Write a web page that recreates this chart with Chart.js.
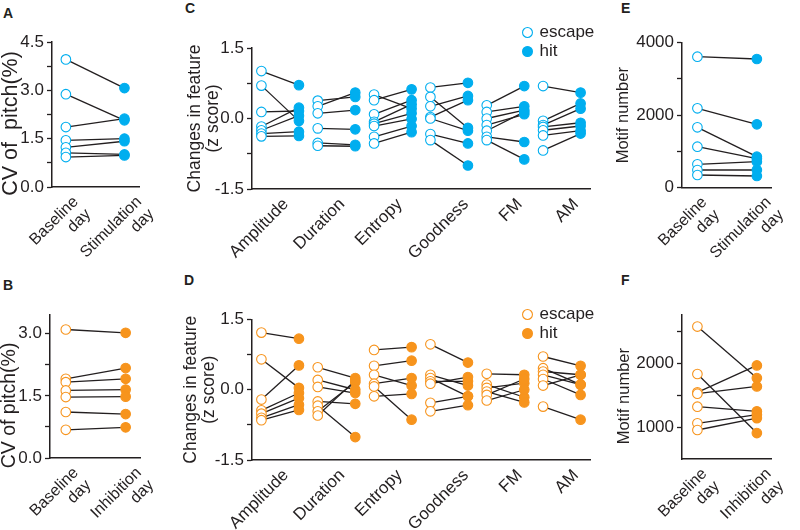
<!DOCTYPE html>
<html><head><meta charset="utf-8">
<script src="https://cdn.jsdelivr.net/npm/chart.js@4.4.1/dist/chart.umd.min.js"></script>
<style>
body{margin:0;background:#fff;width:800px;height:530px;position:relative;overflow:hidden;font-family:"Liberation Sans",Arial,sans-serif}
canvas{position:absolute}
.lab{position:absolute;font-weight:bold;font-size:14px;line-height:14px;color:#231f20}
</style></head><body>
<div class="lab" style="left:3px;top:6px">A</div>
<div class="lab" style="left:185px;top:1px">C</div>
<div class="lab" style="left:621px;top:1px">E</div>
<div class="lab" style="left:3px;top:278px">B</div>
<div class="lab" style="left:184px;top:273px">D</div>
<div class="lab" style="left:621px;top:273px">F</div>
<canvas id="cA"></canvas><canvas id="cB"></canvas><canvas id="cC"></canvas>
<canvas id="cD"></canvas><canvas id="cE"></canvas><canvas id="cF"></canvas>
<canvas id="lC"></canvas><canvas id="lD"></canvas>
<script>
// ---------- data ----------
const stimDays = [['Baseline', 'day'], ['Stimulation', 'day']];
const inhDays = [['Baseline', 'day'], ['Inhibition', 'day']];
const features = ['Amplitude', 'Duration', 'Entropy', 'Goodness', 'FM', 'AM'];
const legendNames = ['escape', 'hit'];

// A: CV of pitch, baseline vs stimulation
const aBaseline = [3.96, 2.88, 1.86, 1.45, 1.23, 1.06, 0.93];
const aStim     = [3.07, 2.07, 2.12, 1.50, 1.42, 1.01, 0.98];
const aYTicks = [0, 0.75, 1.5, 2.25, 3, 3.75, 4.5];
const aYLabels = ['0.0', '', '1.5', '', '3.0', '', '4.5'];

// B: CV of pitch, baseline vs inhibition
const bBaseline = [3.10, 1.91, 1.83, 1.63, 1.47, 1.11, 0.68];
const bInh      = [3.02, 2.17, 1.91, 1.65, 1.48, 1.06, 0.74];
const bYTicks = [0, 0.75, 1.5, 2.25, 3];
const bYLabels = ['0.0', '', '1.5', '', '3.0'];

// C: change in features (stimulation), escape vs hit, paired per bird
const cEscape = [
  [1.01, 0.70, 0.14, -0.17, -0.25, -0.32, -0.38],
  [0.38, 0.26, 0.11, -0.21, -0.52, -0.58],
  [0.51, 0.39, 0.09, -0.07, -0.11, -0.16, -0.39, -0.53],
  [0.66, 0.46, 0.26, 0.03, 0.00, -0.33, -0.46],
  [0.28, 0.14, 0.00, -0.14, -0.26, -0.39, -0.46],
  [0.69, -0.05, -0.14, -0.18, -0.25, -0.36, -0.68]
];
const cHit = [
  [0.71, -0.05, 0.16, 0.23, 0.06, -0.28, -0.37],
  [0.46, 0.55, 0.18, -0.23, -0.56, -0.59],
  [0.21, 0.62, 0.39, 0.30, 0.11, -0.01, -0.16, -0.29],
  [0.76, -0.20, 0.48, 0.39, -0.26, -0.53, -1.00],
  [0.69, 0.26, 0.18, 0.09, 0.14, -0.50, -0.87],
  [0.55, 0.32, 0.21, -0.09, -0.16, -0.26, -0.32]
];
// D: change in features (inhibition)
const dEscape = [
  [1.22, 0.65, -0.21, -0.44, -0.51, -0.60, -0.65],
  [0.48, 0.21, 0.06, -0.25, -0.34, -0.46, -0.55],
  [0.85, 0.51, 0.32, 0.13, 0.07, -0.14],
  [0.97, 0.32, 0.25, 0.18, 0.13, -0.28, -0.46],
  [0.34, 0.11, 0.04, -0.04, -0.11, -0.23],
  [0.71, 0.46, 0.39, 0.32, 0.23, 0.09, -0.36]
];
const dHit = [
  [1.09, 0.04, 0.52, -0.07, -0.18, -0.32, -0.43],
  [0.25, 0.00, -0.07, -0.30, -1.01, 0.16, 0.20],
  [0.91, 0.62, 0.09, 0.25, -0.64, -0.09],
  [0.58, 0.09, -0.14, 0.18, 0.27, -0.14, -0.33],
  [0.32, -0.16, 0.14, -0.27, 0.23, 0.00],
  [0.51, 0.11, 0.32, 0.11, -0.11, 0.32, -0.64]
];
const zYTicks = [-1.5, -0.75, 0, 0.75, 1.5];
const zYLabels = ['-1.5', '', '0.0', '', '1.5'];

// E: motif number, baseline vs stimulation
const eBaseline = [3614, 2190, 1666, 1131, 645, 488, 350];
const eStim     = [3550, 1749, 855, 800, 717, 488, 323];
const eYTicks = [0, 1000, 2000, 3000, 4000];
const eYLabels = ['0', '', '2000', '', '4000'];

// F: motif number, baseline vs inhibition
const fBaseline = [2569, 1828, 1541, 1520, 1317, 1058, 953];
const fInh      = [1765, 905, 1962, 1634, 1244, 1192, 1139];
const fYTicks = [1000, 1500, 2000, 2500];
const fYLabels = ['1000', '', '2000', ''];

// ---------- styling ----------
const INK = '#231f20';
const CYAN = '#00aeef';
const ORANGE = '#f7941d';
Chart.defaults.font.family = '"Liberation Sans", Arial, Helvetica, sans-serif';
Chart.defaults.color = INK;

function pairSets(xa, xb, a, b) {
  return a.map((v, j) => ({
    showLine: true, data: [{x: xa, y: v}, {x: xb, y: b[j]}],
    borderColor: INK, borderWidth: 1.3, pointRadius: 0, order: 2, clip: false
  }));
}
function pointSet(pts, color, hollow) {
  return {
    data: pts, showLine: false, order: 0, clip: false,
    pointRadius: 4.8, pointBorderWidth: 1.1,
    pointBackgroundColor: hollow ? '#ffffff' : color, pointBorderColor: color
  };
}

function panel(id, box, area, cfg) {
  const cv = document.getElementById(id);
  cv.width = box.w; cv.height = box.h;
  cv.style.left = box.l + 'px'; cv.style.top = box.t + 'px';
  const yW = area.l - box.l - (cfg.padL || 0);
  const xH = box.t + box.h - area.b;
  new Chart(cv, {
    type: 'scatter',
    data: {datasets: cfg.datasets},
    options: {
      responsive: false, animation: false, events: [],
      layout: {padding: {left: cfg.padL || 0, top: area.t - box.t, right: box.l + box.w - area.r, bottom: 0}},
      plugins: {legend: {display: false}, tooltip: {enabled: false}},
      scales: {
        x: {
          type: 'linear', min: cfg.xMin, max: cfg.xMax,
          afterFit: s => { s.height = xH; },
          afterBuildTicks: s => { s.ticks = cfg.xTicks.map(v => ({value: v})); },
          ticks: {autoSkip: false, maxRotation: 45, minRotation: 45, padding: cfg.xPad || 6,
                  font: {size: cfg.xFont || 17, lineHeight: 1.1}, color: INK, callback: (v, i) => cfg.xLabels[i]},
          grid: {display: false, drawTicks: false},
          border: {color: INK, width: 1.5}
        },
        y: {
          min: cfg.yMin, max: cfg.yMax,
          afterFit: s => { s.width = yW; },
          afterBuildTicks: s => { s.ticks = cfg.yTicks.map(v => ({value: v})); },
          ticks: {autoSkip: false, padding: 3, font: {size: 17}, color: INK, callback: (v, i) => cfg.yLabels[i]},
          grid: {drawOnChartArea: false, drawTicks: true, tickLength: 5, tickWidth: 1.3, tickColor: INK, color: INK},
          border: {color: INK, width: 1.5},
          title: {display: true, text: cfg.title, color: INK, padding: 0, font: {size: cfg.titleSize, lineHeight: cfg.titleLH || 1}}
        }
      }
    }
  });
}

function twoDayPanel(id, box, area, base, after, color, labels, yTicks, yLabels, yMin, yMax, title, titleSize, xMin, xMax, xTicks) {
  panel(id, box, area, {
    datasets: [
      ...pairSets(0, 1, base, after),
      pointSet(base.map(v => ({x: 0, y: v})), color, true),
      pointSet(after.map(v => ({x: 1, y: v})), color, false)
    ],
    xMin, xMax, xTicks, xLabels: labels, xFont: 16,
    yMin, yMax, yTicks, yLabels, title, titleSize
  });
}

const featureTickPos = [0.1, 1.1, 2.12, 3.3, 4.25, 5.25];
function featurePanel(id, box, area, esc, hit, color, padL) {
  const ds = [], ep = [], hp = [];
  esc.forEach((arr, i) => {
    ds.push(...pairSets(i - 0.333, i + 0.333, arr, hit[i]));
    arr.forEach(v => ep.push({x: i - 0.333, y: v}));
    hit[i].forEach(v => hp.push({x: i + 0.333, y: v}));
  });
  ds.push(pointSet(ep, color, true), pointSet(hp, color, false));
  panel(id, box, area, {
    datasets: ds, padL,
    xMin: -0.5, xMax: 5.5, xTicks: featureTickPos, xLabels: features, xFont: 17, xPad: 6,
    yMin: -1.5, yMax: 1.5, yTicks: zYTicks, yLabels: zYLabels,
    title: ['Changes in feature', '(z score)'], titleSize: 17.5, titleLH: 1.03
  });
}

function legendPanel(id, l, t, color) {
  const cv = document.getElementById(id);
  cv.width = 240; cv.height = 46; cv.style.left = l + 'px'; cv.style.top = t + 'px';
  new Chart(cv, {
    type: 'scatter',
    data: {datasets: [
      {label: legendNames[0], data: [], pointStyle: 'circle', backgroundColor: '#ffffff', borderColor: color, pointBackgroundColor: '#ffffff', pointBorderColor: color, pointBorderWidth: 1.1, borderWidth: 1.1},
      {label: legendNames[1], data: [], pointStyle: 'circle', backgroundColor: color, borderColor: color, pointBackgroundColor: color, pointBorderColor: color, pointBorderWidth: 1.1, borderWidth: 1.1}
    ]},
    options: {
      responsive: false, animation: false, events: [],
      scales: {x: {display: false}, y: {display: false}},
      plugins: {tooltip: {enabled: false},
        legend: {position: 'left', align: 'start',
          labels: {usePointStyle: true, boxWidth: 7, boxHeight: 7, padding: 2, color: INK, font: {size: 17}}}}
    }
  });
}

const SP = '\u00a0';
twoDayPanel('cA', {l: 0, t: 0, w: 170, h: 260}, {l: 52, t: 42, r: 156, b: 187},
  aBaseline, aStim, CYAN, stimDays, aYTicks, aYLabels, 0, 4.5, 'CV of  pitch(%)' + SP.repeat(3), 21.5, -0.237, 1.253, [0.17, 1.25]);
twoDayPanel('cB', {l: 0, t: 260, w: 170, h: 270}, {l: 50, t: 315, r: 155, b: 458},
  bBaseline, bInh, ORANGE, inhDays, bYTicks, bYLabels, 0, 3.45, 'CV of pitch(%)' + SP.repeat(7), 19.5, -0.264, 1.25, [0.17, 1.22]);
featurePanel('cC', {l: 186, t: 0, w: 420, h: 260}, {l: 252, t: 48, r: 590, b: 189}, cEscape, cHit, CYAN, 0);
featurePanel('cD', {l: 182, t: 260, w: 424, h: 270}, {l: 252, t: 319.5, r: 590, b: 460}, dEscape, dHit, ORANGE, 0);
twoDayPanel('cE', {l: 615, t: 0, w: 185, h: 260}, {l: 682, t: 42.7, r: 788, b: 187.7},
  eBaseline, eStim, CYAN, stimDays, eYTicks, eYLabels, 0, 4000, 'Motif number', 16.5, -0.259, 1.245, [0.12, 1.2]);
twoDayPanel('cF', {l: 616, t: 260, w: 184, h: 270}, {l: 682, t: 315, r: 788, b: 459},
  fBaseline, fInh, ORANGE, inhDays, fYTicks, fYLabels, 500, 2750, 'Motif number' + SP.repeat(4), 16.5, -0.259, 1.245, [0.12, 1.2]);
legendPanel('lC', 522, 22, CYAN);
legendPanel('lD', 522, 304, ORANGE);
</script>
</body></html>
